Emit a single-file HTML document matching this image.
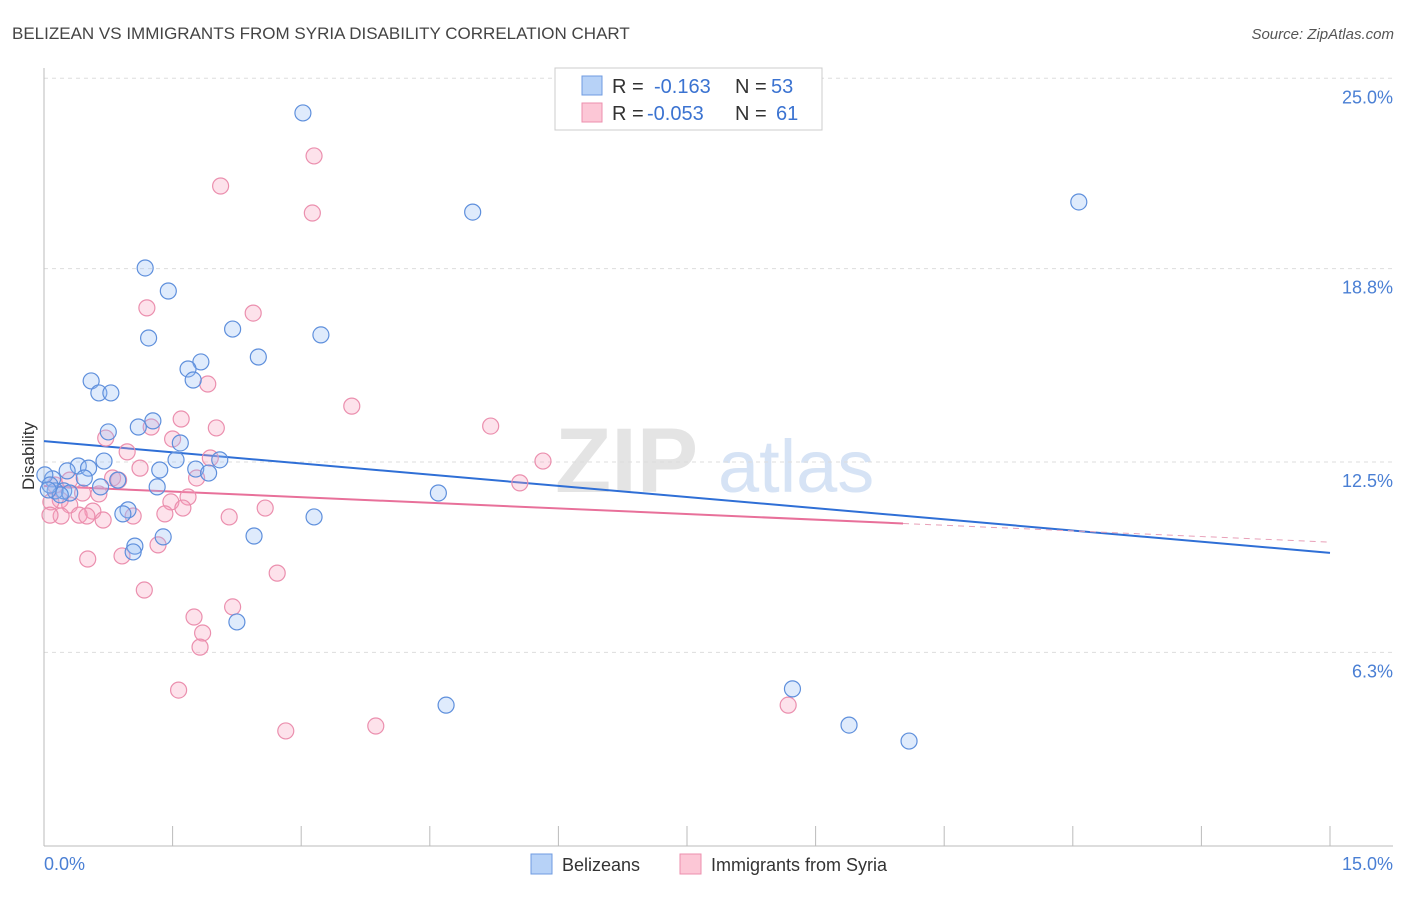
<!DOCTYPE html>
<html><head><meta charset="utf-8"><style>
body{margin:0;background:#fff;font-family:"Liberation Sans",sans-serif;}
svg text{font-family:"Liberation Sans",sans-serif;}
</style></head><body>
<svg id="chart" width="1406" height="892" xmlns="http://www.w3.org/2000/svg">
<text x="12" y="39" font-size="17" fill="#444">BELIZEAN VS IMMIGRANTS FROM SYRIA DISABILITY CORRELATION CHART</text>
<text x="1394" y="39" font-size="15" fill="#555" text-anchor="end" font-style="italic">Source: ZipAtlas.com</text>
<g>
<text x="555" y="492" font-size="92" fill="#e4e4e4" font-family="Liberation Serif,serif" font-weight="bold">ZIP</text>
<text x="718" y="492" font-size="74" fill="#d6e3f5">atlas</text>
</g>
<g id="grid"></g>
<g id="axes"></g>
<g id="trends"></g>
<g id="points"></g>
<text transform="translate(34,456) rotate(-90)" font-size="17" fill="#333" text-anchor="middle">Disability</text>
<g>
<rect x="555" y="68" width="267" height="62" fill="#fff" stroke="#ccc"/>
<rect x="582" y="76" width="20" height="19" fill="#b7d2f7" stroke="#6f9be0"/>
<rect x="582" y="103" width="20" height="19" fill="#fcc7d6" stroke="#ec8fae"/>
<text x="612" y="93" font-size="20" fill="#333">R =</text>
<text x="654" y="93" font-size="20" fill="#3b73d1">-0.163</text>
<text x="735" y="93" font-size="20" fill="#333">N =</text>
<text x="771" y="93" font-size="20" fill="#3b73d1">53</text>
<text x="612" y="120" font-size="20" fill="#333">R =</text>
<text x="647" y="120" font-size="20" fill="#3b73d1">-0.053</text>
<text x="735" y="120" font-size="20" fill="#333">N =</text>
<text x="776" y="120" font-size="20" fill="#3b73d1">61</text>
</g>
<g>
<rect x="531" y="854" width="21" height="20" fill="#b7d2f7" stroke="#6f9be0"/>
<text x="562" y="871" font-size="18" fill="#333">Belizeans</text>
<rect x="680" y="854" width="21" height="20" fill="#fcc7d6" stroke="#ec8fae"/>
<text x="711" y="871" font-size="18" fill="#333">Immigrants from Syria</text>
</g>
</svg>
<script>
const yTicks=[25.0,18.8,12.5,6.3];
const yTickLabels=["25.0%","18.8%","12.5%","6.3%"];
const xTickCount=10;
const blueX=[3.02,5.00,12.07,1.18,1.45,2.20,3.23,1.22,2.50,1.83,1.68,1.74,0.55,0.64,0.78,1.27,1.10,0.75,1.59,1.54,2.05,0.70,0.40,0.52,0.27,1.35,1.77,1.92,0.10,0.47,0.86,0.66,1.32,0.23,0.13,0.30,0.19,4.60,0.98,0.92,3.15,2.45,1.39,1.06,1.04,2.25,4.69,8.73,9.39,10.09,0.01,0.07,0.05];
const blueY=[23.87,20.64,20.97,18.82,18.07,16.83,16.64,16.54,15.92,15.76,15.53,15.17,15.14,14.75,14.75,13.84,13.64,13.48,13.12,12.57,12.57,12.53,12.37,12.30,12.21,12.24,12.27,12.14,11.95,11.98,11.91,11.69,11.69,11.56,11.56,11.49,11.43,11.49,10.94,10.81,10.71,10.09,10.06,9.76,9.57,7.29,4.58,5.11,3.93,3.41,12.08,11.75,11.59];
const pinkX=[3.15,2.06,3.13,1.20,2.44,1.91,3.59,1.60,5.21,1.25,2.01,0.72,1.50,0.97,1.94,5.82,1.12,0.80,0.87,1.78,5.55,0.45,0.64,1.68,0.19,0.08,1.48,0.30,1.62,2.58,0.57,0.41,1.41,0.50,1.04,2.16,0.20,0.69,0.07,1.33,0.91,0.51,2.72,1.17,2.20,1.75,1.85,1.82,1.57,2.82,3.87,8.68,0.13,0.30];
const pinkY=[22.47,21.49,20.61,17.52,17.35,15.04,14.32,13.90,13.67,13.64,13.61,13.28,13.25,12.83,12.63,12.53,12.30,11.98,11.91,11.98,11.82,11.49,11.46,11.36,11.26,11.20,11.20,11.10,11.00,11.00,10.90,10.77,10.81,10.74,10.74,10.71,10.74,10.61,10.77,9.80,9.44,9.34,8.88,8.33,7.78,7.45,6.93,6.47,5.07,3.74,3.90,4.58,11.75,11.91];
const blueTrend=[13.18,9.54];
const pinkTrend=[11.72,9.89];
const pinkSolidEnd=10.02;
const NS="http://www.w3.org/2000/svg";
const X=v=>44+v*(1286/15);
const Y=v=>462-(v-12.5)*30.7;
function mk(tag,attrs,parent){const e=document.createElementNS(NS,tag);for(const k in attrs)e.setAttribute(k,attrs[k]);parent.appendChild(e);return e;}
const grid=document.getElementById('grid'),axes=document.getElementById('axes');
yTicks.forEach((t,i)=>{
 const gl=mk('line',{x1:44,x2:1393,y1:Y(t),y2:Y(t),stroke:'#ddd','stroke-dasharray':'4,4'},grid);
 
 
 const tx=mk('text',{x:1393,y:Y(t)+25,'font-size':18,fill:'#4a7fd4','text-anchor':'end'},axes);
 tx.textContent=yTickLabels[i];
 
 
});
mk('line',{x1:44,x2:44,y1:68,y2:846,stroke:'#bbb'},axes);
mk('line',{x1:44,x2:1393,y1:846,y2:846,stroke:'#bbb'},axes);
for(let i=0;i<=xTickCount;i++){const tk=mk('line',{x1:X(i*1.5),x2:X(i*1.5),y1:826,y2:846,stroke:'#bbb'},axes);
 
 }
const x0=mk('text',{x:44,y:870,'font-size':18,fill:'#4a7fd4'},axes);x0.textContent='0.0%';


const x1=mk('text',{x:1393,y:870,'font-size':18,fill:'#4a7fd4','text-anchor':'end'},axes);x1.textContent='15.0%';


const pts=document.getElementById('points');
pinkX.forEach((x,i)=>{const c=mk('circle',{cx:X(x),cy:Y(pinkY[i]),r:8,fill:'rgba(248,160,188,0.3)',stroke:'#eb8fae','stroke-width':1.2},pts);
 
 });
blueX.forEach((x,i)=>{const c=mk('circle',{cx:X(x),cy:Y(blueY[i]),r:8,fill:'rgba(150,190,245,0.3)',stroke:'#5e8fdc','stroke-width':1.2},pts);
 
 });
const tr=document.getElementById('trends');
const bl=mk('line',{x1:X(0),y1:Y(blueTrend[0]),x2:X(15),y2:Y(blueTrend[1]),stroke:'#2f6fd6','stroke-width':2},tr);


const pv=v=>pinkTrend[0]+(pinkTrend[1]-pinkTrend[0])*v/15;
const pl=mk('line',{x1:X(0),y1:Y(pinkTrend[0]),x2:X(pinkSolidEnd),y2:Y(pv(pinkSolidEnd)),stroke:'#e8709a','stroke-width':2},tr);


const pd=mk('line',{x1:X(pinkSolidEnd),y1:Y(pv(pinkSolidEnd)),x2:X(15),y2:Y(pinkTrend[1]),stroke:'#e8a0b8','stroke-width':1,'stroke-dasharray':'6,5'},tr);


</script>
</body></html>
